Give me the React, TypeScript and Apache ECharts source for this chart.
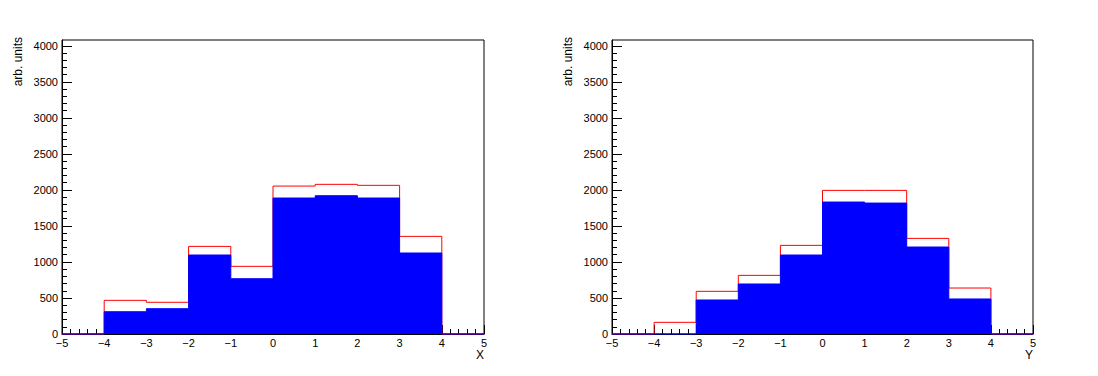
import React, { useEffect, useRef } from "react";
import * as echarts from "echarts";

// Bin edges shared by both histograms
const binEdges = [-5, -4, -3, -2, -1, 0, 1, 2, 3, 4, 5];

// Left panel (X): total (red outline) and selected (blue filled)
const xTotal = [0, 467, 440, 1216, 939, 2053, 2077, 2063, 1355, 0];
const xSelected = [0, 309, 351, 1096, 767, 1887, 1919, 1887, 1124, 0];

// Right panel (Y)
const yTotal = [0, 162, 592, 814, 1230, 1993, 1993, 1327, 638, 0];
const ySelected = [0, 0, 472, 694, 1096, 1831, 1817, 1207, 486, 0];

// Axis ticks
const yMajorTicks = [0, 500, 1000, 1500, 2000, 2500, 3000, 3500, 4000];
const yMinorStep = 100;
const yMax = 4080;
const xTitles = ["X", "Y"];
const yTitle = "arb. units";

const FONT = "Liberation Sans, Arial, Helvetica, sans-serif";

function stepData(vals: number[]) {
  return binEdges.map((e, i) => [e, i < vals.length ? vals[i] : vals[vals.length - 1]]);
}

const yMinorTicks: number[] = [];
for (let v = 0; v <= 4000; v += yMinorStep) if (v % 500 !== 0) yMinorTicks.push(v);

export default function App() {
  const ref = useRef<HTMLDivElement>(null);
  useEffect(() => {
    if (!ref.current) return;
    const chart = echarts.init(ref.current, null, { renderer: "svg" });
    const grids = [
      { left: 62, top: 40, width: 422, height: 294 },
      { left: 612, top: 40, width: 421, height: 294 },
    ];
    const xAxes: any[] = [];
    const yAxes: any[] = [];
    const series: any[] = [];
    const graphics: any[] = [];
    const panels = [
      { total: xTotal, sel: xSelected },
      { total: yTotal, sel: ySelected },
    ];
    panels.forEach((p, gi) => {
      xAxes.push({
        type: "value",
        gridIndex: gi,
        position: "bottom",
        min: -5,
        max: 5,
        interval: 1,
        axisLine: { show: true, onZero: false, lineStyle: { color: "#000", width: 1 } },
        axisTick: { show: true, inside: true, length: 9, lineStyle: { color: "#000" } },
        minorTick: { show: true, splitNumber: 5, length: 5, lineStyle: { color: "#000" } },
        axisLabel: {
          margin: 3,
          color: "#000",
          fontSize: 11,
          fontFamily: FONT,
          formatter: (v: number) => String(v).replace("-", "\u2212"),
        },
        splitLine: { show: false },
        minorSplitLine: { show: false },
      });
      yAxes.push({
        type: "value",
        gridIndex: gi,
        position: "left",
        min: 0,
        max: yMax,
        axisLine: { show: true, onZero: false, lineStyle: { color: "#000", width: 1 } },
        axisTick: { show: true, inside: true, length: 10, customValues: yMajorTicks, lineStyle: { color: "#000" } },
        axisLabel: {
          customValues: yMajorTicks,
          margin: 4,
          color: "#000",
          fontSize: 11,
          fontFamily: FONT,
          formatter: (v: number) => String(v),
        },
        splitLine: { show: false },
      });
      yAxes.push({
        type: "value",
        gridIndex: gi,
        position: "left",
        offset: 0,
        min: 0,
        max: yMax,
        axisLine: { show: false, onZero: false },
        axisTick: { show: true, inside: true, length: 5, customValues: yMinorTicks, lineStyle: { color: "#000" } },
        axisLabel: { show: false },
        splitLine: { show: false },
      });
      series.push({
        type: "line",
        xAxisIndex: gi,
        yAxisIndex: gi * 2,
        step: "end",
        symbol: "none",
        clip: false,
        z: 2,
        lineStyle: { color: "#ff0000", width: 1 },
        data: stepData(p.total),
      });
      series.push({
        type: "line",
        xAxisIndex: gi,
        yAxisIndex: gi * 2,
        step: "end",
        symbol: "none",
        clip: false,
        z: 3,
        lineStyle: { color: "#0000ff", width: 1 },
        areaStyle: { color: "#0000ff", opacity: 1 },
        data: stepData(p.sel),
      });
      const g = grids[gi];
      graphics.push({
        type: "text",
        x: g.left - 44,
        y: 37,
        rotation: Math.PI / 2,
        style: { text: yTitle, align: "right", verticalAlign: "middle", font: `12px ${FONT}`, fill: "#000" },
      });
      graphics.push({
        type: "text",
        x: g.left + g.width,
        y: 355,
        style: { text: xTitles[gi], align: "right", verticalAlign: "middle", font: `12px ${FONT}`, fill: "#000" },
      });
    });
    chart.setOption({
      animation: false,
      backgroundColor: "#fff",
      grid: grids.map((g) => ({ ...g, show: true, borderColor: "#000", borderWidth: 1, backgroundColor: "transparent" })),
      xAxis: xAxes,
      yAxis: yAxes,
      series,
      graphic: graphics,
    });
    return () => chart.dispose();
  }, []);
  return (
    <div
      ref={ref}
      style={{ position: "fixed", left: 0, top: 0, width: 1098, height: 376 }}
    />
  );
}
